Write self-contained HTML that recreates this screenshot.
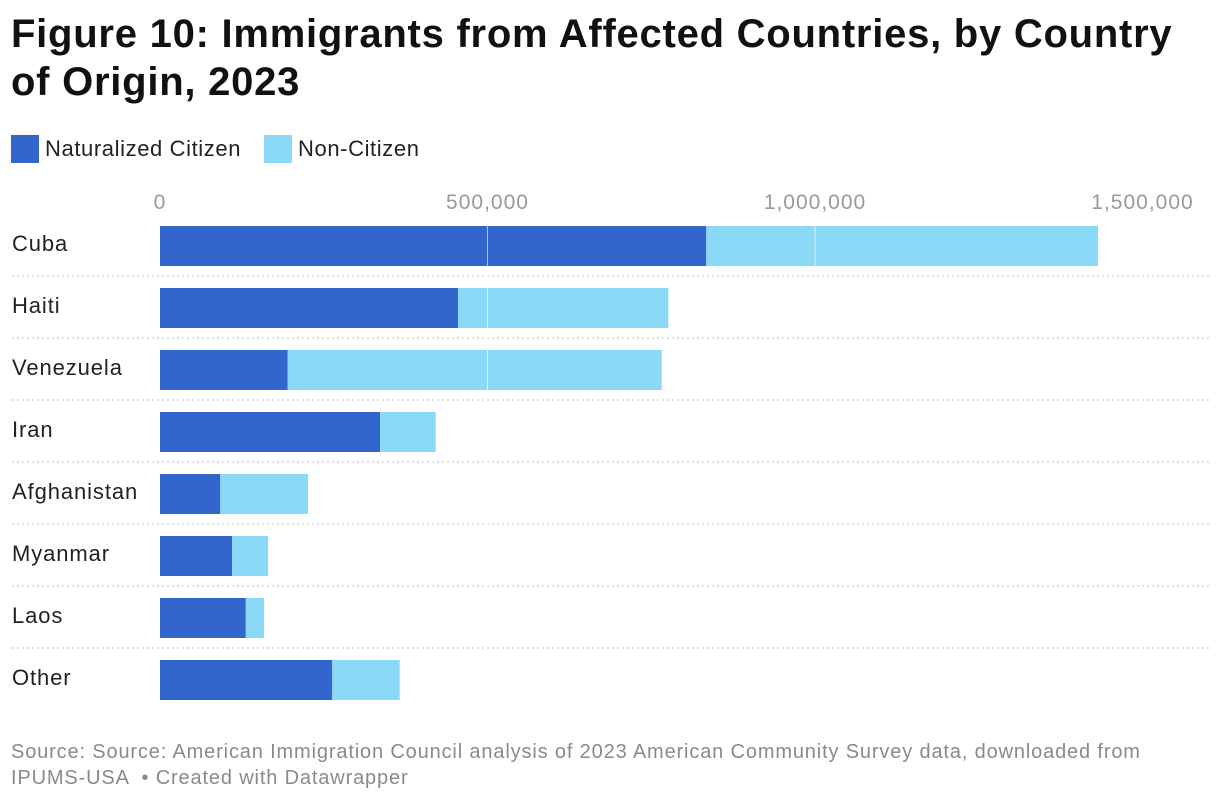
<!DOCTYPE html>
<html><head><meta charset="utf-8">
<style>
body{margin:0;background:#fff;font-family:"Liberation Sans",Arial,sans-serif;}
#wrap{position:relative;width:1220px;height:802px;overflow:hidden;}
h1{position:absolute;left:11px;top:10px;margin:0;font-size:40px;line-height:48px;font-weight:bold;color:#111;width:1210px;letter-spacing:0.75px;white-space:nowrap}
.leg{position:absolute;top:135px;font-size:22px;color:#222;display:flex;align-items:center;letter-spacing:0.6px}
.sw{width:28px;height:28px;margin-right:6px}
.src{position:absolute;left:11px;top:739px;font-size:20px;line-height:26px;color:#8a8a8a;width:1210px;white-space:nowrap;letter-spacing:0.85px}
</style></head><body>
<div id="wrap">
<h1>Figure 10: Immigrants from Affected Countries, by Country<br>of Origin, 2023</h1>
<div class="leg" style="left:11px"><div class="sw" style="background:#3266cc"></div>Naturalized Citizen</div>
<div class="leg" style="left:264px"><div class="sw" style="background:#8ad9f6"></div>Non-Citizen</div>
<svg id="chart" width="1220" height="802" style="position:absolute;left:0;top:0"></svg>
<div class="src">Source: Source: American Immigration Council analysis of 2023 American Community Survey data, downloaded from<br>IPUMS-USA &nbsp;• Created with Datawrapper</div>
</div>
<script>
const categories=["Cuba","Haiti","Venezuela","Iran","Afghanistan","Myanmar","Laos","Other"];
const naturalized=[834000,455000,195000,336000,92000,110000,131000,263000];
const nonCitizen=[598000,321000,571000,85000,134000,55000,28000,103000];
const ticks=[0,500000,1000000,1500000];
const tickLabels=["0","500,000","1,000,000","1,500,000"];
const NS="http://www.w3.org/2000/svg";
const svg=document.getElementById('chart');
const x0=160,scale=655/1000000;
const xs=v=>x0+v*scale;
const rowTop=i=>226+i*62;
function mk(t,a){const e=document.createElementNS(NS,t);for(const k in a)e.setAttribute(k,a[k]);svg.appendChild(e);return e;}
ticks.forEach((t,i)=>{
 const tx=mk('text',{x:xs(t),y:209,'text-anchor':'middle','font-size':21,fill:'#999','letter-spacing':1,'font-family':'Liberation Sans, sans-serif'});
 tx.textContent=tickLabels[i];
 
 
});
categories.forEach((c,i)=>{
 const y=rowTop(i);
 const lb=mk('text',{x:12,y:y+25,'font-size':22,fill:'#222','letter-spacing':0.9,'font-family':'Liberation Sans, sans-serif'});
 lb.textContent=c;
 
 
 const b1=mk('rect',{x:xs(0),y:y,width:xs(naturalized[i])-xs(0),height:40,fill:'#3266cc'});
 
 
 const b2=mk('rect',{x:xs(naturalized[i]),y:y,width:xs(naturalized[i]+nonCitizen[i])-xs(naturalized[i]),height:40,fill:'#8ad9f6'});
 
 
 if(i<categories.length-1){
  const ln=mk('line',{x1:12,x2:1210,y1:y+50,y2:y+50,stroke:'#ccc','stroke-width':1.3,'stroke-dasharray':'2,3'});
  
  
 }
});
ticks.slice(1).forEach(t=>{
 const g=mk('line',{x1:xs(t),x2:xs(t),y1:222,y2:704,stroke:'#fff','stroke-width':1,opacity:0.6});
 
 
});
</script>
</body></html>
